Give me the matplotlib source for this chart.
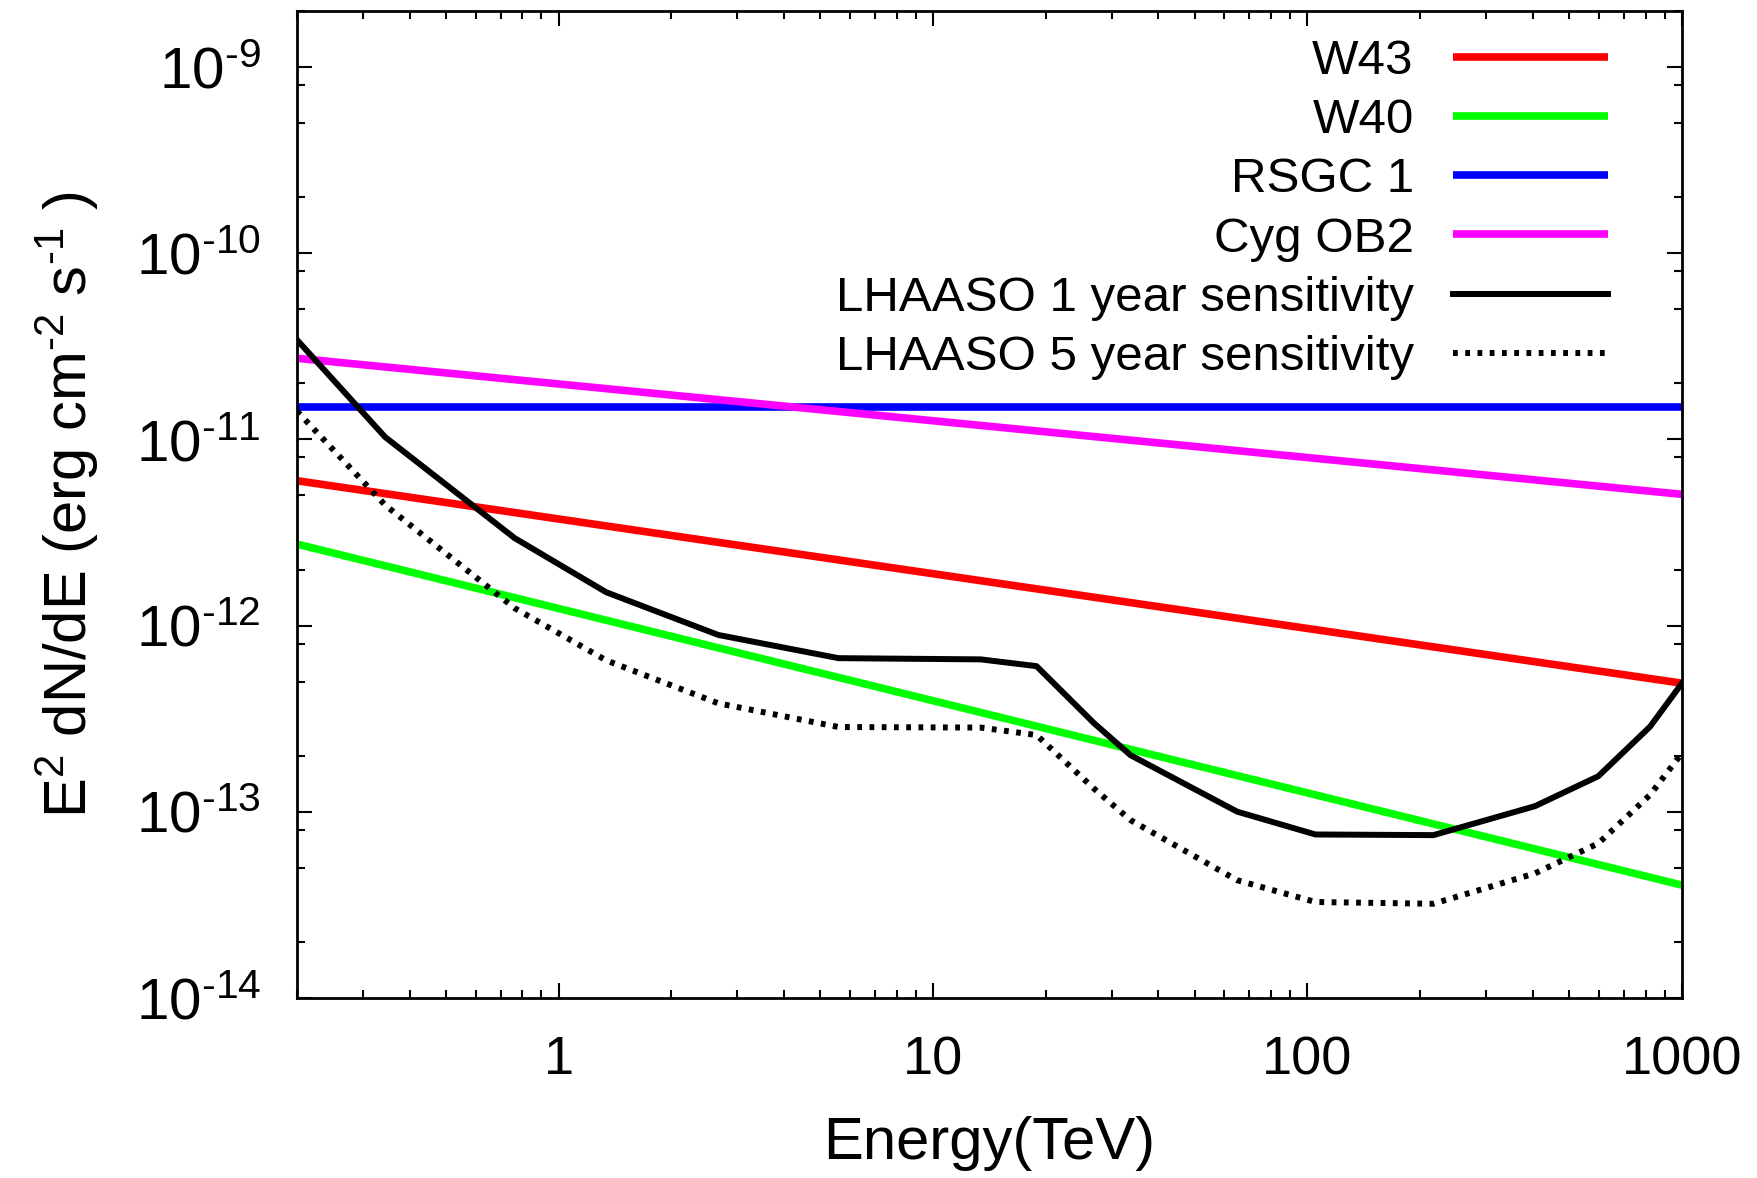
import numpy as np
import matplotlib
matplotlib.use('Agg')
import matplotlib.pyplot as plt
from matplotlib.ticker import LogLocator, FixedLocator, FuncFormatter, NullFormatter

plt.rcParams['font.family'] = ['Liberation Sans', 'DejaVu Sans']
plt.rcParams['mathtext.fontset'] = 'custom'
plt.rcParams['mathtext.rm'] = 'Liberation Sans'
plt.rcParams['mathtext.it'] = 'Liberation Sans:italic'
plt.rcParams['mathtext.bf'] = 'Liberation Sans:bold'

# source spectra (power laws, given at the ends of the energy range)
e_src = [0.2, 1000]
w43 = [6.0e-12, 4.9e-13]
w40 = [2.74e-12, 4.03e-14]
rsgc1 = [1.49e-11, 1.49e-11]
cygob2 = [2.73e-11, 5.07e-12]

# LHAASO point-source sensitivity curves
e_sens = [0.2, 0.344, 0.763, 1.34, 2.67, 5.59, 13.4, 18.9, 26.9, 33.7,
          64.9, 105, 217, 405, 598, 822, 1000]
sens_1yr = [3.43e-11, 1.03e-11, 2.95e-12, 1.51e-12, 8.9e-13, 6.68e-13,
            6.58e-13, 6.05e-13, 2.99e-13, 2.01e-13, 1.0e-13, 7.54e-14,
            7.48e-14, 1.07e-13, 1.55e-13, 2.86e-13, 4.89e-13]
sens_5yr = [1.42e-11, 4.44e-12, 1.24e-12, 6.5e-13, 3.82e-13, 2.85e-13,
            2.83e-13, 2.58e-13, 1.33e-13, 9.0e-14, 4.28e-14, 3.27e-14,
            3.2e-14, 4.66e-14, 6.75e-14, 1.23e-13, 2.06e-13]

fig = plt.figure(figsize=(17.58, 11.78), dpi=100)
ax = fig.add_axes([0.1689, 0.1530, 0.7878, 0.8375])

lw_src = 5.5
ax.plot(e_src, w43, color='#ff0000', lw=lw_src, solid_capstyle='butt', label='W43')
ax.plot(e_src, w40, color='#00ff00', lw=lw_src, solid_capstyle='butt', label='W40')
ax.plot(e_src, rsgc1, color='#0000ff', lw=lw_src, solid_capstyle='butt', label='RSGC 1')
ax.plot(e_src, cygob2, color='#ff00ff', lw=lw_src, solid_capstyle='butt', label='Cyg OB2')
ax.plot(e_sens, sens_1yr, color='black', lw=4.3, label='LHAASO 1 year sensitivity')
ax.plot(e_sens, sens_5yr, color='black', lw=4.3, dashes=(0.8, 1.25),
        dash_capstyle='butt', label='LHAASO 5 year sensitivity')

ax.set_xscale('log')
ax.set_yscale('log')
ax.set_xlim(0.2, 1000)
ax.set_ylim(1e-14, 2e-9)

ax.xaxis.set_major_locator(FixedLocator([1, 10, 100, 1000]))
ax.xaxis.set_minor_locator(LogLocator(base=10, subs=np.arange(2, 10), numticks=20))
ax.xaxis.set_major_formatter(FuncFormatter(lambda v, p: '%g' % v))
ax.xaxis.set_minor_formatter(NullFormatter())

ax.yaxis.set_major_locator(LogLocator(base=10, numticks=20))
ax.yaxis.set_minor_locator(LogLocator(base=10, subs=(2, 5, 8), numticks=20))
ax.yaxis.set_major_formatter(FuncFormatter(
    lambda v, p: r'$\mathregular{10^{\text{-}%d}}$' % -int(round(np.log10(v)))))
ax.yaxis.set_minor_formatter(NullFormatter())

ax.tick_params(which='both', direction='in', top=True, right=True, width=1.5)
ax.tick_params(which='major', length=11)
ax.tick_params(which='minor', length=5.5)
ax.tick_params(axis='y', pad=26, labelsize=42)
ax.tick_params(axis='x', pad=27, labelsize=39)
for s in ax.spines.values():
    s.set_linewidth(2)

ax.set_xlabel('Energy(TeV)', fontsize=43, labelpad=22)
ax.set_ylabel(r'E$^{2}$ dN/dE (erg cm$^{\text{-}2}$ s$^{\text{-}1}$ )', fontsize=43)
ax.yaxis.set_label_coords(-0.1415, 0.5)

ax.legend(loc='upper right', bbox_to_anchor=(0.947, 0.972), frameon=False,
          markerfirst=False, fontsize=35.5, handlelength=3.15, handletextpad=0.8,
          labelspacing=0.29, borderpad=0, borderaxespad=0)

fig.savefig('out.png', dpi=100)
